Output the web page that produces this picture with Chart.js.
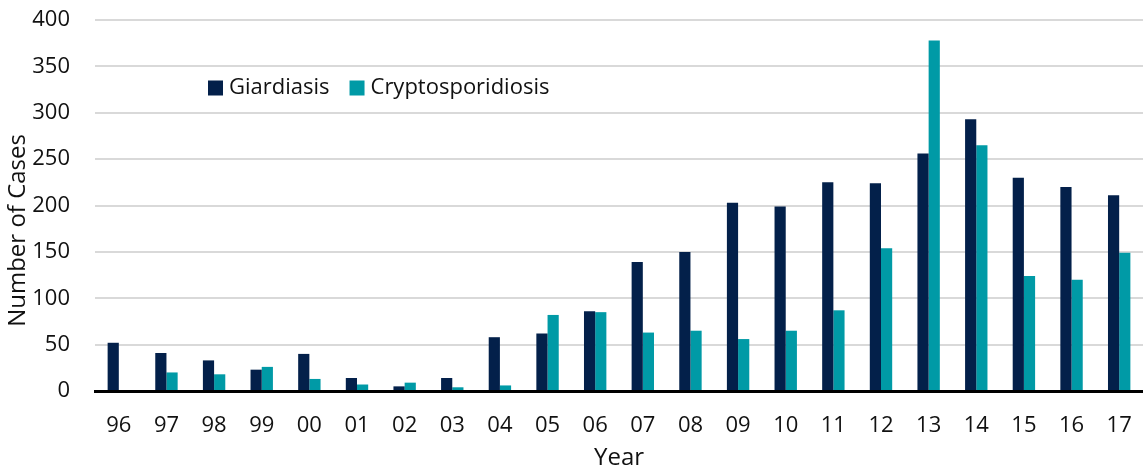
<!DOCTYPE html>
<html>
<head>
<meta charset="utf-8">
<script src="https://cdn.jsdelivr.net/npm/chart.js@4"></script>
<style>
  html, body { margin: 0; padding: 0; background: #fff; }
  #wrap { width: 1143px; height: 470px; }
</style>
</head>
<body>
<div id="wrap"><canvas id="myChart"></canvas></div>
<script>
const years = ['96','97','98','99','00','01','02','03','04','05','06','07','08','09','10','11','12','13','14','15','16','17'];
const giardiasis = [52, 41, 33, 23, 40, 14, 5, 14, 58, 62, 86, 139, 150, 203, 199, 225, 224, 256, 293, 230, 220, 211];
const crypto = [0, 20, 18, 26, 13, 7, 9, 4, 6, 82, 85, 63, 65, 56, 65, 87, 154, 378, 265, 124, 120, 149];

const FONT = "'Open Sans', 'Noto Sans', sans-serif";
const TEXT = '#111';

// legend drawn inside the plot, like the original
const insideLegend = {
    id: 'insideLegend',
    afterDraw(chart) {
        const c = chart.ctx;
        let x = 208;
        const y = 88;
        c.save();
        c.font = '22px ' + FONT;
        c.textBaseline = 'middle';
        chart.data.datasets.forEach(function (ds) {
            c.fillStyle = ds.backgroundColor;
            c.fillRect(x, y - 7.5, 15, 15);
            c.fillStyle = TEXT;
            c.fillText(ds.label, x + 21, y);
            x += 21 + c.measureText(ds.label).width + 20;
        });
        c.restore();
    }
};

const ctx = document.getElementById('myChart').getContext('2d');
const myChart = new Chart(ctx, {
    type: 'bar',
    data: {
        labels: years,
        datasets: [{
            label: 'Giardiasis',
            data: giardiasis,
            backgroundColor: '#03204a',
            categoryPercentage: 0.47,
            barPercentage: 1.0
        }, {
            label: 'Cryptosporidiosis',
            data: crypto,
            backgroundColor: '#009aa6',
            categoryPercentage: 0.47,
            barPercentage: 1.0
        }]
    },
    options: {
        responsive: true,
        maintainAspectRatio: false,
        animation: false,
        layout: {
            padding: { top: 20, left: 4, right: -4, bottom: 0 }
        },
        plugins: {
            legend: { display: false },
            tooltip: { enabled: false }
        },
        scales: {
            x: {
                grid: { display: false, drawTicks: false },
                border: { display: true, color: '#000', width: 3 },
                ticks: {
                    color: TEXT,
                    padding: 22,
                    font: { family: FONT, size: 22 }
                },
                title: {
                    display: true,
                    text: 'Year',
                    color: TEXT,
                    padding: { top: 2, bottom: -3 },
                    font: { family: FONT, size: 24 }
                },
                afterFit: function (scale) {
                    scale.height = 79;
                    scale.paddingLeft = 0;
                    scale.paddingRight = 0;
                }
            },
            y: {
                min: 0,
                max: 400,
                grid: { color: '#d9d9d9', lineWidth: 2, drawTicks: false },
                border: { display: false },
                ticks: {
                    stepSize: 50,
                    color: TEXT,
                    padding: 25,
                    font: { family: FONT, size: 22 }
                },
                title: {
                    display: true,
                    text: 'Number of Cases        ',
                    color: TEXT,
                    padding: { top: 0, bottom: 0 },
                    font: { family: FONT, size: 24 }
                },
                afterFit: function (scale) {
                    scale.width = 91;
                    scale.paddingTop = 0;
                    scale.paddingBottom = 0;
                }
            }
        }
    },
    plugins: [insideLegend]
});
</script>
</body>
</html>
